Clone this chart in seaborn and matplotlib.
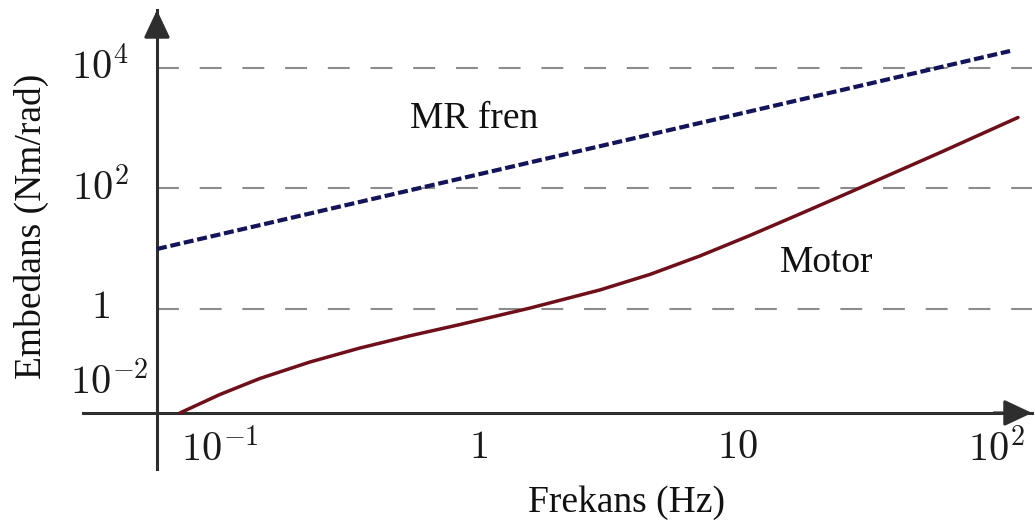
import matplotlib
matplotlib.use("Agg")
import matplotlib.pyplot as plt
import pandas as pd
import seaborn as sns

# Impedance of the MR brake (straight line in log-log) and of the motor
freq_mr = [0.057, 113.0]
imp_mr = [9.9, 19150.0]

freq_motor = [0.0699, 0.0997, 0.1422, 0.222, 0.3464, 0.5406, 0.8436, 1.573,
              2.939, 4.585, 7.155, 11.17, 17.43, 27.2, 42.45, 60.61, 86.5,
              121.3]
imp_motor = [0.0188, 0.038, 0.070, 0.1314, 0.2244, 0.3583, 0.5509, 1.033,
             2.071, 3.745, 7.596, 16.63, 37.82, 86.84, 201.2, 394.4, 784.6,
             1508.0]

xtick_vals = [0.1, 1, 10, 100]
xtick_labels = [r"$10^{-1}$", r"$1$", r"$10$", r"$10^{2}$"]
ytick_vals = [1e4, 1e2, 1]
ytick_labels = [r"$10^{4}$", r"$10^{2}$", r"$1$"]
origin_label = r"$10^{-2}$"

# where the two axis lines cross
origin_x = 0.057
origin_y = 0.0188

sns.set_theme(style="white")
plt.rcParams["font.family"] = ["Liberation Serif", "DejaVu Serif"]
plt.rcParams["mathtext.fontset"] = "cm"

fig = plt.figure(figsize=(10.35, 5.26), dpi=100)
ax = fig.add_axes([0.0802, 0.1084, 0.9169, 0.8726])
ax.set_xscale("log")
ax.set_yscale("log")
ax.set_xlim(10 ** -1.530, 10 ** 2.138)
ax.set_ylim(10 ** -2.656, 10 ** 4.963)

mr = pd.DataFrame({"f": freq_mr, "Z": imp_mr})
motor = pd.DataFrame({"f": freq_motor, "Z": imp_motor})

# dashed reference levels, starting at the vertical axis
ax.hlines(ytick_vals, origin_x, ax.get_xlim()[1], colors="#8c8c8c",
          linewidth=1.5, linestyles=[(0, (10.5, 10))], zorder=1)

sns.lineplot(data=mr, x="f", y="Z", ax=ax, color="#14145a", linewidth=3.0,
             linestyle=(0, (2.4, 0.9)), zorder=3)
sns.lineplot(data=motor, x="f", y="Z", ax=ax, color="#6e0f1a", linewidth=2.5,
             solid_joinstyle="round", solid_capstyle="round", zorder=3)

# axis lines crossing at the origin, with arrow heads
axis_col = "#2e2e2e"
for side in ("top", "right"):
    ax.spines[side].set_visible(False)
ax.spines["left"].set_position(("data", origin_x))
ax.spines["bottom"].set_position(("data", origin_y))
for side in ("left", "bottom"):
    ax.spines[side].set_color(axis_col)
    ax.spines[side].set_linewidth(2.2)

arrow = dict(arrowstyle="-|>,head_length=0.85,head_width=0.4",
             mutation_scale=20, color=axis_col, lw=2.2,
             shrinkA=0, shrinkB=0)
ax.annotate("", xy=(1.0, origin_y), xytext=(0.96, origin_y),
            xycoords=ax.get_yaxis_transform(),
            textcoords=ax.get_yaxis_transform(), arrowprops=arrow)
ax.annotate("", xy=(origin_x, 1.0), xytext=(origin_x, 0.95),
            xycoords=ax.get_xaxis_transform(),
            textcoords=ax.get_xaxis_transform(), arrowprops=arrow)

ax.xaxis.set_minor_locator(matplotlib.ticker.NullLocator())
ax.yaxis.set_minor_locator(matplotlib.ticker.NullLocator())
ax.set_xticks(xtick_vals)
ax.set_xticklabels(xtick_labels)
ax.set_yticks(ytick_vals)
ax.set_yticklabels(ytick_labels)
ax.tick_params(axis="x", direction="out", length=6, width=1.5,
               color=axis_col, pad=6, labelsize=29, labelcolor="#1a1a1a")
ax.tick_params(axis="y", direction="out", length=4, width=1.5,
               color=axis_col, pad=37, labelsize=29, labelcolor="#1a1a1a")
for lab in ax.get_yticklabels():
    lab.set_horizontalalignment("center")
    lab.set_verticalalignment("center")

ax.annotate(origin_label, xy=(origin_x, origin_y), xytext=(-34, 21.5),
            textcoords="offset points", ha="center", va="center",
            fontsize=29, color="#1a1a1a")

ax.text(0.542, 1009, "MR fren", fontsize=27, ha="left", va="baseline",
        color="#111111")
ax.text(14.6, 4.11, "Motor", fontsize=27, ha="left", va="baseline",
        color="#111111")

ax.set_xlabel("")
ax.set_ylabel("")
fig.text(626 / 1035, 1 - 512 / 526, "Frekans (Hz)", fontsize=27,
         ha="center", va="baseline", color="#111111")
fig.text(31 / 1035, 1 - 226 / 526, "Embedans (Nm/rad)", fontsize=27,
         rotation=90, ha="center", va="center", color="#111111")

fig.savefig("out.png", dpi=100)
